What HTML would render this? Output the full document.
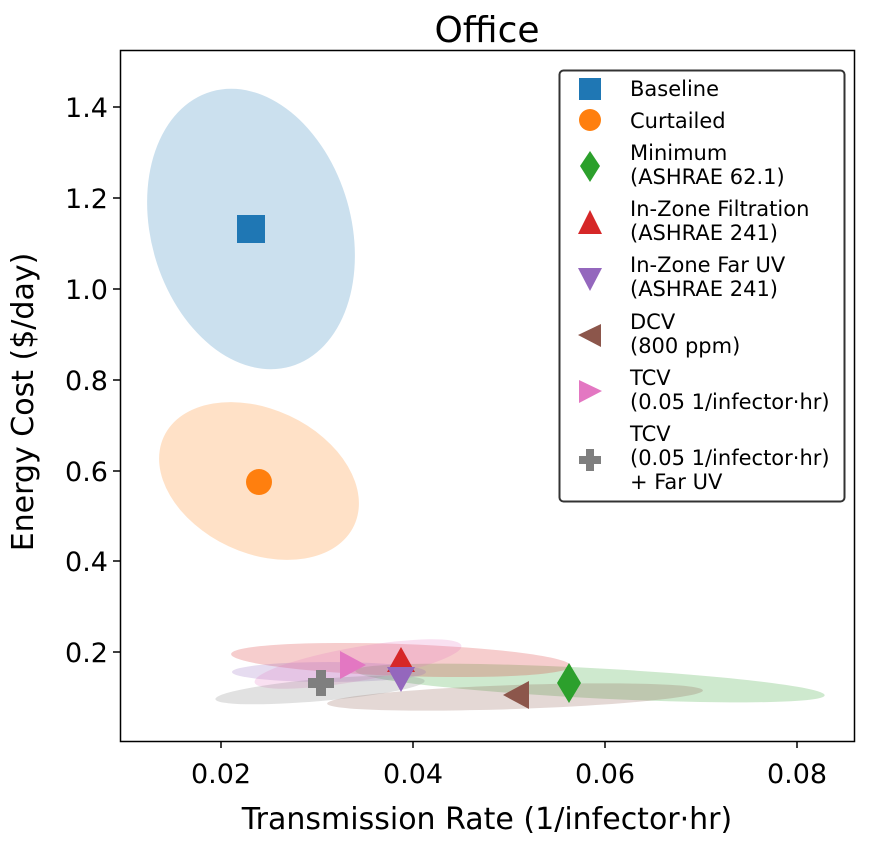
<!DOCTYPE html><html><head><style>body{margin:0;background:#fff}</style></head><body>
<svg width="870" height="842" xmlns="http://www.w3.org/2000/svg" font-family="DejaVu Sans, Liberation Sans, sans-serif">
<text x="487" y="42" font-size="36" text-anchor="middle">Office</text>
<g>
<ellipse cx="251" cy="229" rx="100" ry="143" transform="rotate(-16 251 229)" fill="#1f77b4" fill-opacity="0.23"/>
<ellipse cx="259" cy="481" rx="105" ry="72" transform="rotate(25 259 481)" fill="#ff7f0e" fill-opacity="0.23"/>
<ellipse cx="590" cy="683" rx="235" ry="15" transform="rotate(3 590 683)" fill="#2ca02c" fill-opacity="0.23"/>
<ellipse cx="401" cy="660" rx="170" ry="16" transform="rotate(2 401 660)" fill="#d62728" fill-opacity="0.23"/>
<ellipse cx="329" cy="672" rx="97" ry="10" fill="#9467bd" fill-opacity="0.23"/>
<ellipse cx="515" cy="697" rx="188" ry="12" transform="rotate(-2 515 697)" fill="#8c564b" fill-opacity="0.23"/>
<ellipse cx="358" cy="664" rx="105" ry="17" transform="rotate(-10 358 664)" fill="#e377c2" fill-opacity="0.23"/>
<ellipse cx="320" cy="690" rx="105" ry="11" transform="rotate(-5 320 690)" fill="#7f7f7f" fill-opacity="0.23"/>
</g>
<rect x="237" y="215" width="28" height="28" fill="#1f77b4"/>
<circle cx="259" cy="482" r="13" fill="#ff7f0e"/>
<polygon points="569,663 581,683 569,703 557,683" fill="#2ca02c"/>
<polygon points="401,647 415,672 387,672" fill="#d62728"/>
<polygon points="387,667 415,667 401,692" fill="#9467bd"/>
<polygon points="529,681 529,709 503,695" fill="#8c564b"/>
<polygon points="340,651 340,679 366,665" fill="#e377c2"/>
<path d="M316,670h10v8h8v10h-8v8h-10v-8h-8v-10h8z" fill="#7f7f7f"/>
<rect x="120.5" y="50.5" width="734" height="691" fill="none" stroke="#000" stroke-width="1.5"/>
<g stroke="#000" stroke-width="1.5">
<line x1="221" y1="741" x2="221" y2="748"/><line x1="413" y1="741" x2="413" y2="748"/><line x1="605" y1="741" x2="605" y2="748"/><line x1="797" y1="741" x2="797" y2="748"/>
<line x1="113" y1="107" x2="120" y2="107"/><line x1="113" y1="198" x2="120" y2="198"/><line x1="113" y1="289" x2="120" y2="289"/><line x1="113" y1="380" x2="120" y2="380"/><line x1="113" y1="471" x2="120" y2="471"/><line x1="113" y1="561" x2="120" y2="561"/><line x1="113" y1="652" x2="120" y2="652"/>
</g>
<g font-size="27" text-anchor="middle">
<text x="221" y="783">0.02</text><text x="413" y="783">0.04</text><text x="605" y="783">0.06</text><text x="797" y="783">0.08</text>
</g>
<g font-size="27" text-anchor="end">
<text x="108" y="117">1.4</text><text x="108" y="208">1.2</text><text x="108" y="299">1.0</text><text x="108" y="390">0.8</text><text x="108" y="481">0.6</text><text x="108" y="571">0.4</text><text x="108" y="662">0.2</text>
</g>
<text x="487" y="829" font-size="30" text-anchor="middle">Transmission Rate (1/infector·hr)</text>
<text transform="translate(33 402) rotate(-90)" font-size="30" text-anchor="middle">Energy Cost ($/day)</text>
<rect x="559.5" y="70.5" width="285" height="431" rx="4" fill="#fff" fill-opacity="0.85" stroke="#333" stroke-width="2"/>
<g font-size="21">
<rect x="579" y="78" width="22" height="22" fill="#1f77b4"/><text x="630" y="96">Baseline</text>
<circle cx="590" cy="120" r="11" fill="#ff7f0e"/><text x="630" y="128">Curtailed</text>
<polygon points="590,151 600,166 590,182 580,166" fill="#2ca02c"/><text x="630" y="160">Minimum</text><text x="630" y="184">(ASHRAE 62.1)</text>
<polygon points="590,210 602,234 578,234" fill="#d62728"/><text x="630" y="216">In-Zone Filtration</text><text x="630" y="240">(ASHRAE 241)</text>
<polygon points="578,268 602,268 590,291" fill="#9467bd"/><text x="630" y="272">In-Zone Far UV</text><text x="630" y="296">(ASHRAE 241)</text>
<polygon points="601,324 601,347 578,335" fill="#8c564b"/><text x="630" y="329">DCV</text><text x="630" y="353">(800 ppm)</text>
<polygon points="579,380 579,403 602,391" fill="#e377c2"/><text x="630" y="385">TCV</text><text x="630" y="409">(0.05 1/infector·hr)</text>
<path d="M586,449h8v7h7v8h-7v7h-8v-7h-7v-8h7z" fill="#7f7f7f"/><text x="630" y="441">TCV</text><text x="630" y="465">(0.05 1/infector·hr)</text><text x="630" y="489">+ Far UV</text>
</g>
</svg></body></html>
